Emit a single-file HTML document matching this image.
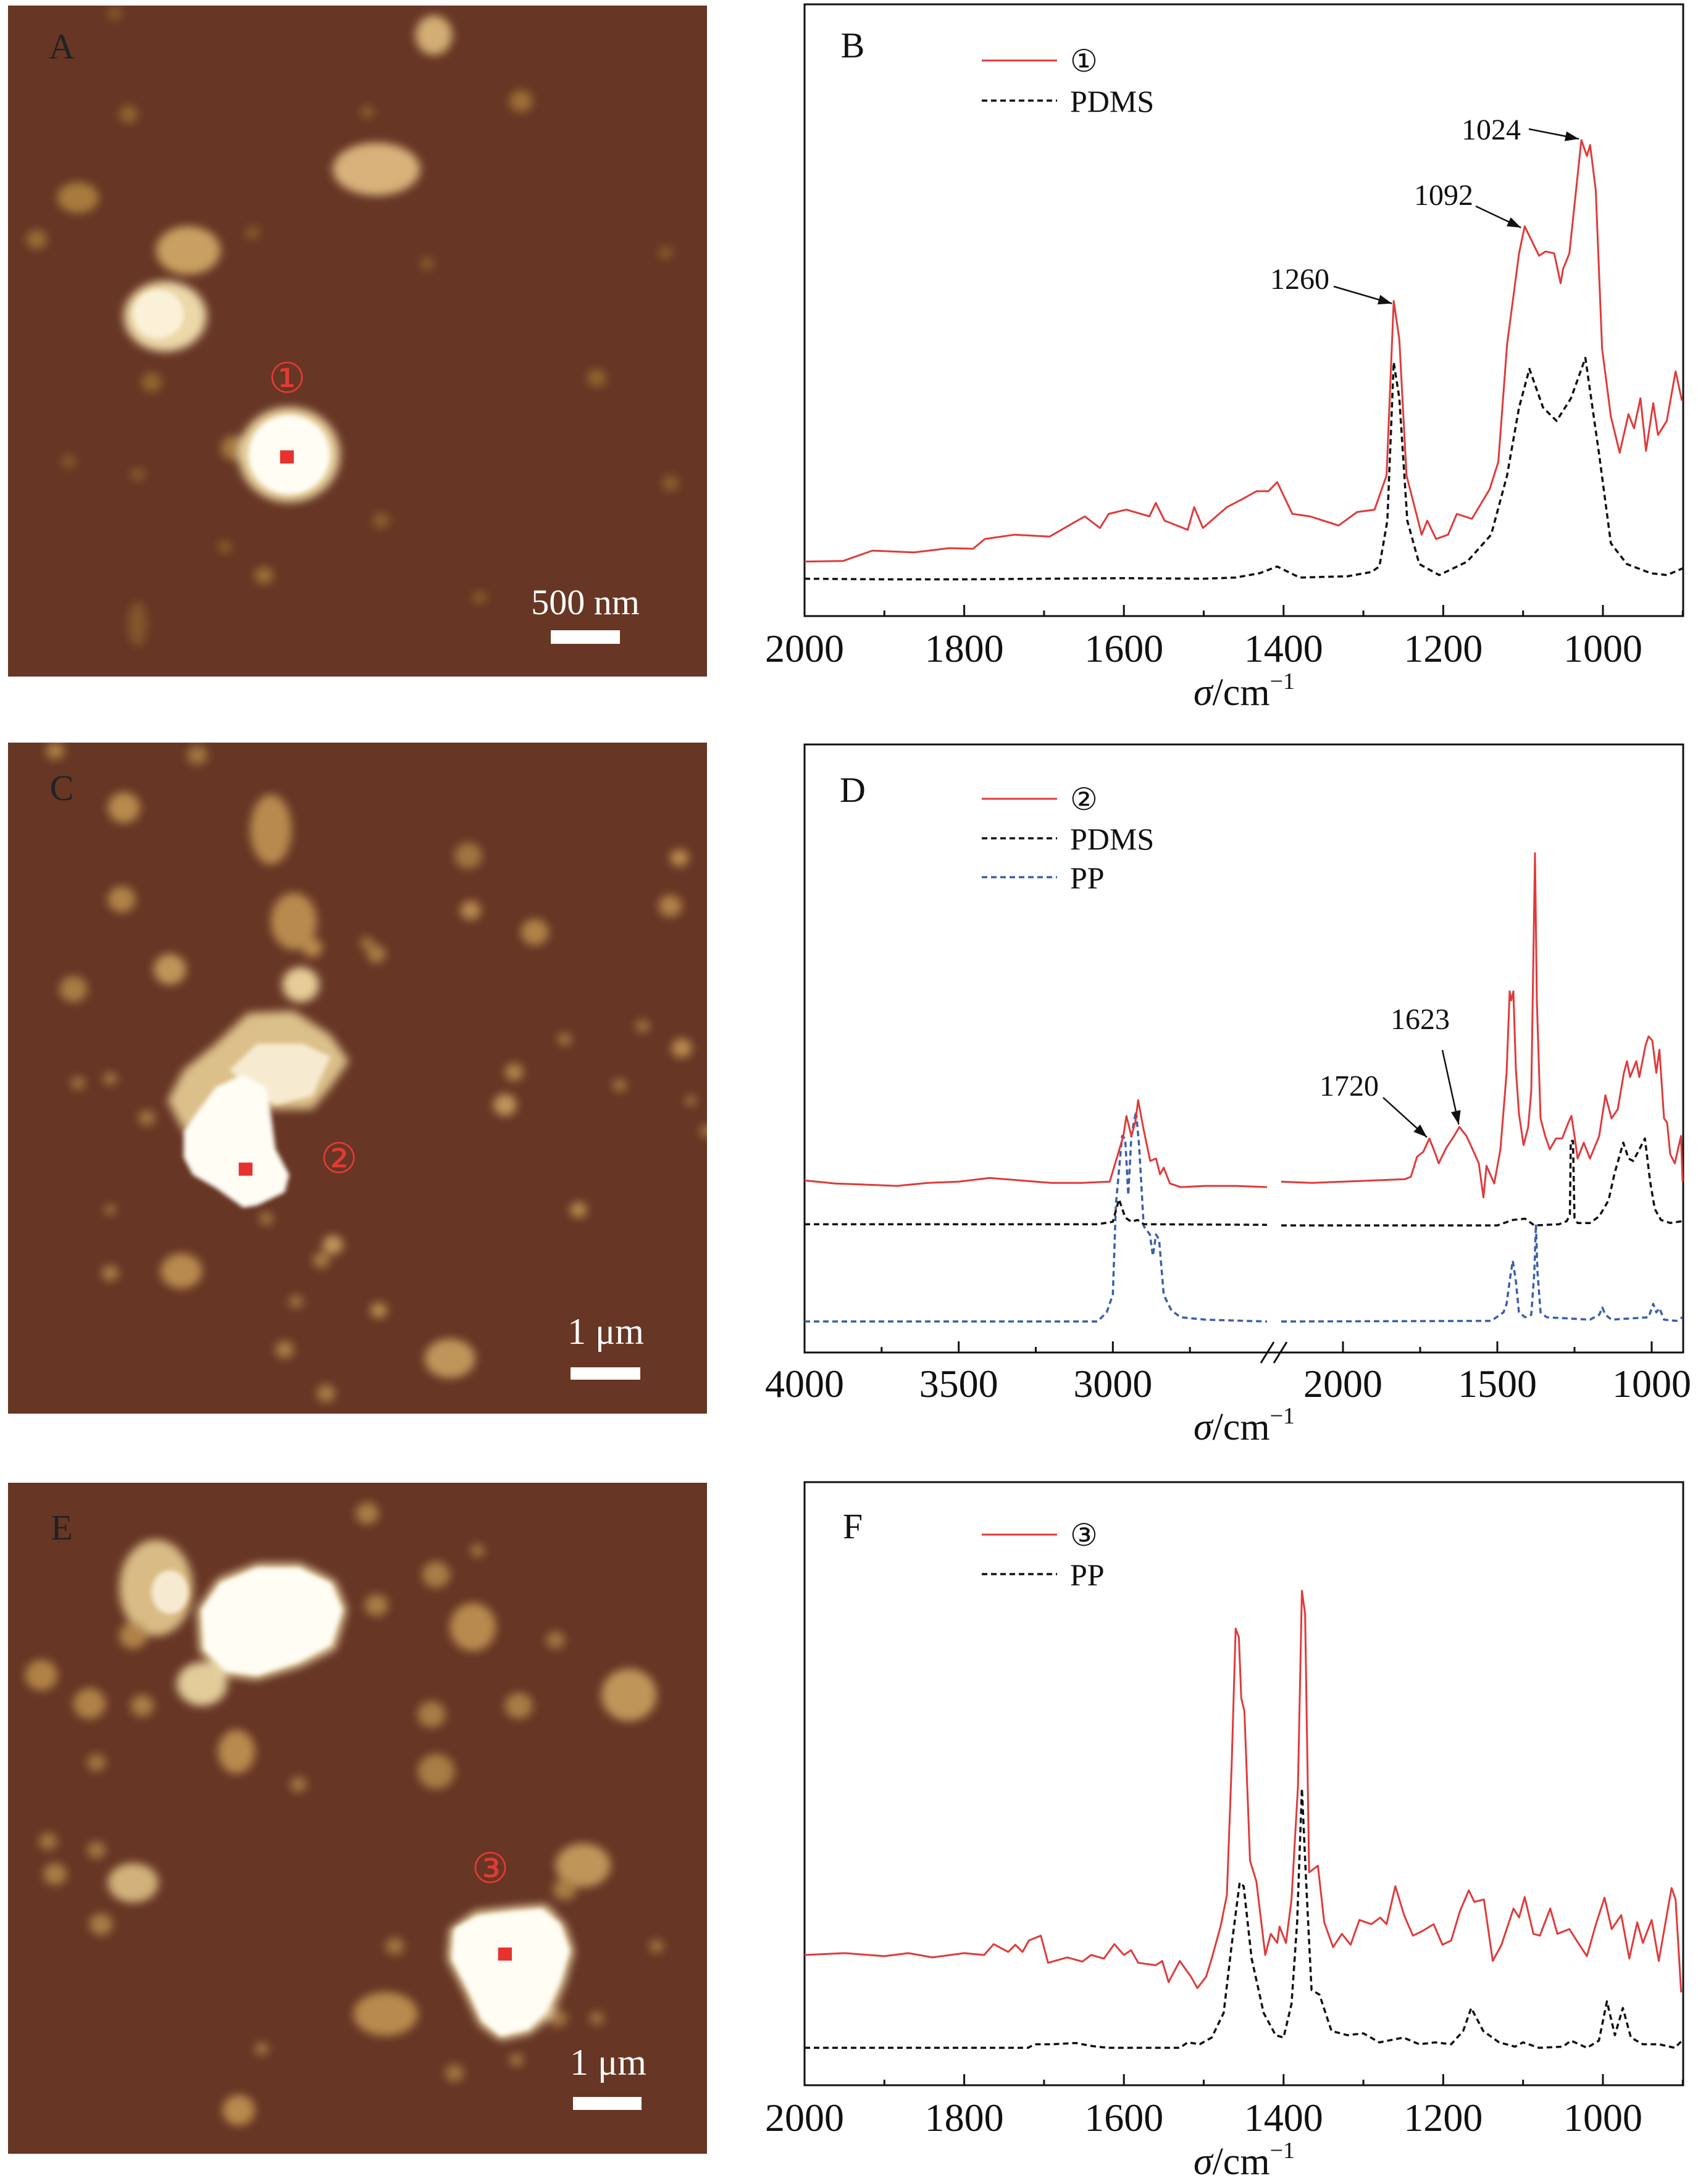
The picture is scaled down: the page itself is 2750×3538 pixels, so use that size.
<!DOCTYPE html>
<html><head><meta charset="utf-8">
<style>
html,body{margin:0;padding:0;background:#fff;}
svg{display:block;}
svg text{font-family:"Liberation Serif","Times New Roman",serif;}
</style></head>
<body>
<svg id="fig" width="2750" height="3538" viewBox="0 0 2750 3538" xmlns="http://www.w3.org/2000/svg" font-family="Liberation Serif, serif">
<defs>
<filter id="blr" x="-50%" y="-50%" width="200%" height="200%"><feGaussianBlur stdDeviation="10"/></filter>
<filter id="blr2" x="-50%" y="-50%" width="200%" height="200%"><feGaussianBlur stdDeviation="5"/></filter>
<clipPath id="clipA"><rect x="13" y="9" width="1132" height="1087"/></clipPath>
<clipPath id="clipC"><rect x="13" y="1203" width="1132" height="1087"/></clipPath>
<clipPath id="clipE"><rect x="13" y="2402" width="1132" height="1087"/></clipPath>
</defs>

<!-- Panel A -->
<g clip-path="url(#clipA)">
<rect x="13" y="9" width="1132" height="1087" fill="#673624"/>
<g transform="scale(0.7435,0.7117)" filter="url(#blr)">
<ellipse cx="820" cy="385" rx="95" ry="60" fill="#d8b27a"/>
<ellipse cx="410" cy="570" rx="70" ry="55" fill="#c9a062"/>
<ellipse cx="170" cy="450" rx="45" ry="35" fill="#a77a3e"/>
<ellipse cx="945" cy="80" rx="40" ry="45" fill="#d2ad74"/>
<ellipse cx="360" cy="720" rx="90" ry="80" fill="#ecd8a8"/>
<circle cx="1135" cy="230" r="25" fill="#9c6e36"/><circle cx="510" cy="1020" r="28" fill="#a57a40"/>
<circle cx="80" cy="545" r="22" fill="#9a6c34"/><circle cx="280" cy="260" r="20" fill="#93652f"/>
<circle cx="1300" cy="860" r="20" fill="#93652f"/><circle cx="1460" cy="1100" r="18" fill="#8d5f2d"/>
<circle cx="575" cy="1310" r="20" fill="#9c6e36"/><circle cx="330" cy="870" r="22" fill="#93652f"/>
<circle cx="1450" cy="575" r="15" fill="#8a5a2c"/><circle cx="930" cy="600" r="15" fill="#8a5a2c"/>
<circle cx="800" cy="255" r="15" fill="#8a5a2c"/><circle cx="830" cy="1185" r="18" fill="#8d5f2d"/>
<circle cx="150" cy="1050" r="15" fill="#8a5a2c"/><circle cx="300" cy="1080" r="15" fill="#8a5a2c"/>
<circle cx="250" cy="30" r="15" fill="#8a5a2c"/><circle cx="550" cy="530" r="15" fill="#8a5a2c"/>
<circle cx="1045" cy="1360" r="15" fill="#8a5a2c"/><circle cx="490" cy="1245" r="15" fill="#8a5a2c"/>
<ellipse cx="300" cy="1420" rx="20" ry="50" fill="#84562a"/>
<ellipse cx="630" cy="1035" rx="110" ry="108" fill="#e9d3a0"/>
</g>
<g transform="scale(0.7435,0.7117)">
<ellipse cx="630" cy="1035" rx="88" ry="90" fill="#fffdf4" filter="url(#blr2)"/>
<ellipse cx="345" cy="715" rx="55" ry="55" fill="#fbf1d8" filter="url(#blr2)"/>
<rect x="610" y="1025" width="30" height="30" fill="#e8322e"/>
</g>
<text x="465" y="636" font-size="68" fill="#e23a35" text-anchor="middle" font-family="Liberation Serif, serif">①</text>
<text x="100" y="95" font-size="58" fill="#222" text-anchor="middle" font-family="Liberation Serif, serif">A</text>
<text x="948" y="995" font-size="58" fill="#fff" text-anchor="middle" font-family="Liberation Serif, serif">500 nm</text>
<rect x="892" y="1021" width="112" height="22" fill="#fff"/>
</g>

<!-- Panel C -->
<g clip-path="url(#clipC)">
<rect x="13" y="1203" width="1132" height="1087" fill="#673624"/>
<g transform="translate(0,1195) scale(0.7435,0.7082)">
<g filter="url(#blr)">
<ellipse cx="590" cy="210" rx="45" ry="80" fill="#b88a4e"/>
<ellipse cx="640" cy="420" rx="50" ry="65" fill="#b88a4e"/>
<circle cx="680" cy="480" r="22" fill="#b88a4e"/>
<circle cx="655" cy="565" r="40" fill="#e6cd98"/>
<circle cx="270" cy="160" r="35" fill="#b88a4e"/><circle cx="120" cy="30" r="20" fill="#a97d44"/>
<circle cx="430" cy="40" r="22" fill="#a07440"/><circle cx="265" cy="370" r="30" fill="#b08246"/>
<circle cx="370" cy="530" r="35" fill="#c0955a"/><circle cx="160" cy="575" r="30" fill="#a97d44"/>
<circle cx="1025" cy="395" r="22" fill="#b88a4e"/><circle cx="1020" cy="270" r="30" fill="#a07440"/>
<circle cx="1165" cy="445" r="30" fill="#b08246"/><circle cx="1480" cy="275" r="20" fill="#b88a4e"/>
<circle cx="1460" cy="385" r="25" fill="#b08246"/><circle cx="1485" cy="710" r="22" fill="#b88a4e"/>
<circle cx="1100" cy="840" r="25" fill="#c0955a"/><circle cx="1120" cy="765" r="20" fill="#b08246"/>
<circle cx="1260" cy="1080" r="18" fill="#b88a4e"/><circle cx="1230" cy="690" r="15" fill="#a07440"/>
<circle cx="1400" cy="660" r="15" fill="#a07440"/><circle cx="725" cy="1160" r="22" fill="#c0955a"/>
<circle cx="700" cy="1195" r="18" fill="#a97d44"/><ellipse cx="395" cy="1220" rx="45" ry="40" fill="#b88a4e"/>
<circle cx="240" cy="1225" r="18" fill="#a97d44"/><circle cx="825" cy="1310" r="18" fill="#b88a4e"/>
<circle cx="645" cy="1290" r="15" fill="#a07440"/><circle cx="620" cy="1400" r="20" fill="#a97d44"/>
<ellipse cx="980" cy="1420" rx="55" ry="45" fill="#c0955a"/><circle cx="1350" cy="795" r="15" fill="#a07440"/>
<circle cx="1505" cy="830" r="12" fill="#a07440"/><circle cx="820" cy="495" r="20" fill="#a97d44"/>
<circle cx="800" cy="470" r="15" fill="#a07440"/><circle cx="170" cy="790" r="15" fill="#a07440"/>
<circle cx="240" cy="780" r="15" fill="#a07440"/><circle cx="320" cy="870" r="18" fill="#a07440"/>
<circle cx="580" cy="1100" r="15" fill="#a07440"/><circle cx="240" cy="1080" r="12" fill="#a07440"/>
<circle cx="710" cy="1500" r="20" fill="#a97d44"/><circle cx="1540" cy="900" r="15" fill="#a07440"/>
<polygon points="365,830 400,760 470,700 540,630 640,625 720,680 760,740 720,800 680,850 600,850 520,840 450,880 400,900" fill="#dcc08a"/>
</g>
<g filter="url(#blr2)">
<polygon points="500,760 560,700 660,700 720,730 680,820 600,840 540,800" fill="#f6ead0"/>
<polygon points="400,900 420,870 470,800 530,770 580,800 590,860 600,940 630,1000 620,1040 560,1070 530,1075 470,1030 420,1000 400,960" fill="#fffdf4"/>
</g>
<rect x="520" y="972" width="30" height="30" fill="#e8322e"/>
</g>
<text x="549" y="1900" font-size="68" fill="#e23a35" text-anchor="middle" font-family="Liberation Serif, serif">②</text>
<text x="100" y="1296" font-size="58" fill="#222" text-anchor="middle" font-family="Liberation Serif, serif">C</text>
<text x="981" y="2177" font-size="60" fill="#fff" text-anchor="middle" font-family="Liberation Serif, serif">1 μm</text>
<rect x="924" y="2215" width="113" height="20" fill="#fff"/>
</g>

<!-- Panel E -->
<g clip-path="url(#clipE)">
<rect x="13" y="2402" width="1132" height="1087" fill="#673624"/>
<g transform="translate(0,2395) scale(0.7435,0.7082)">
<g filter="url(#blr)">
<ellipse cx="340" cy="250" rx="80" ry="110" fill="#d9bc85"/>
<ellipse cx="440" cy="470" rx="55" ry="50" fill="#e3cc9a"/>
<ellipse cx="290" cy="925" rx="55" ry="45" fill="#d2b27a"/>
<ellipse cx="515" cy="625" rx="40" ry="50" fill="#b88a4e"/>
<ellipse cx="1030" cy="340" rx="50" ry="55" fill="#b88a4e"/>
<ellipse cx="1370" cy="495" rx="60" ry="60" fill="#c0955a"/>
<ellipse cx="1270" cy="885" rx="60" ry="50" fill="#c0955a"/>
<ellipse cx="840" cy="1225" rx="70" ry="50" fill="#b88a4e"/>
<circle cx="520" cy="1445" r="35" fill="#b88a4e"/><circle cx="90" cy="450" r="35" fill="#b08246"/>
<circle cx="195" cy="515" r="35" fill="#b08246"/><circle cx="800" cy="80" r="25" fill="#a97d44"/>
<circle cx="1040" cy="165" r="15" fill="#a07440"/><circle cx="950" cy="220" r="30" fill="#a97d44"/>
<circle cx="820" cy="290" r="25" fill="#a97d44"/><circle cx="940" cy="540" r="30" fill="#a97d44"/>
<circle cx="950" cy="670" r="40" fill="#a97d44"/><circle cx="1130" cy="520" r="30" fill="#a97d44"/>
<circle cx="650" cy="700" r="18" fill="#a07440"/><circle cx="210" cy="650" r="20" fill="#a07440"/>
<circle cx="105" cy="830" r="20" fill="#a07440"/><circle cx="210" cy="850" r="20" fill="#a07440"/>
<circle cx="120" cy="905" r="25" fill="#a97d44"/><circle cx="220" cy="1020" r="25" fill="#a97d44"/>
<circle cx="860" cy="1070" r="20" fill="#a07440"/><circle cx="1215" cy="1235" r="20" fill="#a07440"/>
<circle cx="1300" cy="1235" r="15" fill="#a07440"/><circle cx="1125" cy="1330" r="15" fill="#a07440"/>
<circle cx="990" cy="1360" r="20" fill="#a07440"/><circle cx="570" cy="1305" r="15" fill="#a07440"/>
<circle cx="1430" cy="1070" r="15" fill="#a07440"/><circle cx="1230" cy="940" r="25" fill="#a97d44"/>
<circle cx="310" cy="520" r="25" fill="#a97d44"/><circle cx="290" cy="360" r="30" fill="#b08246"/>
<circle cx="1210" cy="370" r="20" fill="#a07440"/>
<polygon points="430,300 475,230 560,195 655,195 730,235 755,300 730,390 655,430 560,460 485,450 435,395" fill="#ead7aa"/>
<polygon points="980,1030 1035,990 1120,980 1190,975 1230,1020 1250,1080 1230,1155 1200,1230 1155,1270 1090,1285 1045,1250 1012,1175 975,1100" fill="#ead7aa"/>
</g>
<g filter="url(#blr2)">
<polygon points="440,300 480,240 560,205 650,205 720,240 745,300 720,380 650,420 560,450 490,440 445,390" fill="#fffdf4"/>
<polygon points="990,1030 1040,1000 1120,990 1180,985 1220,1020 1240,1080 1220,1150 1190,1220 1150,1260 1090,1275 1050,1240 1020,1170 985,1100" fill="#fffdf4"/>
<ellipse cx="370" cy="260" rx="40" ry="50" fill="#f6ead0"/>
</g>
<rect x="1085" y="1073" width="30" height="30" fill="#e8322e"/>
</g>
<text x="794" y="3050" font-size="68" fill="#e23a35" text-anchor="middle" font-family="Liberation Serif, serif">③</text>
<text x="100" y="2494" font-size="58" fill="#222" text-anchor="middle" font-family="Liberation Serif, serif">E</text>
<text x="985" y="3361" font-size="60" fill="#fff" text-anchor="middle" font-family="Liberation Serif, serif">1 μm</text>
<rect x="928" y="3397" width="111" height="21" fill="#fff"/>
</g>

<g id="charts"></g>
</svg>

<script>
// ---------- Panel B data ----------
const ticksB = [2000, 1800, 1600, 1400, 1200, 1000];
const minorB = [1900, 1700, 1500, 1300, 1100, 900];
const redB = [[2000,8.9],[1952,9.0],[1915,10.7],[1863,10.4],[1819,11.1],[1789,11.0],[1774,12.6],[1737,13.3],[1693,13.0],[1649,16.3],[1630,14.4],[1619,16.7],[1597,17.4],[1568,16.3],[1560,18.5],[1549,15.6],[1520,14.1],[1512,17.8],[1501,14.4],[1471,17.8],[1449,19.3],[1434,20.4],[1419,20.4],[1408,21.9],[1389,16.7],[1367,16.3],[1331,14.8],[1308,17.0],[1286,17.4],[1271,23.0],[1262,51.5],[1255,45.2],[1246,23.0],[1227,13.3],[1220,15.6],[1209,12.6],[1194,13.3],[1183,16.7],[1164,15.9],[1142,20.7],[1131,25.2],[1120,44.4],[1105,59.3],[1098,63.7],[1080,58.9],[1072,59.6],[1061,59.3],[1053,54.4],[1050,56.7],[1042,59.3],[1027,77.8],[1020,75.2],[1016,77.0],[1009,69.6],[1001,43.7],[990,32.6],[979,26.7],[968,33.0],[961,30.7],[953,35.6],[946,27.0],[937,34.8],[931,29.6],[920,31.9],[909,40.0],[901,35.2]];
const pdmsB = [[2000,6.1],[1900,6.0],[1800,6.0],[1700,6.1],[1600,6.2],[1500,6.1],[1460,6.3],[1430,7.0],[1408,8.1],[1380,6.3],[1320,6.5],[1290,7.2],[1280,8.1],[1270,15.6],[1262,41.5],[1255,35.6],[1245,15.6],[1230,8.5],[1205,6.7],[1170,8.9],[1140,13.3],[1120,23.0],[1105,34.1],[1092,40.4],[1075,34.1],[1058,31.9],[1040,35.6],[1022,42.2],[1005,26.7],[990,11.9],[970,8.5],[940,7.0],[920,6.7],[900,7.8]];
const peaksB = [1260, 1092, 1024];

// ---------- Panel D data ----------
const ticksDLeft = [4000, 3500, 3000];
const minorDLeft = [3750, 3250, 2750];
const ticksDRight = [2000, 1500, 1000];
const minorDRight = [1750, 1250];
const redDLeft = [[4000,28.3],[3900,27.8],[3800,27.6],[3700,27.4],[3600,27.9],[3500,28.1],[3400,28.7],[3300,28.3],[3200,27.9],[3100,27.9],[3010,28.1],[2966,35.6],[2956,38.9],[2940,35.6],[2927,37.9],[2918,41.5],[2902,37.1],[2879,31.5],[2860,31.9],[2847,29.3],[2835,30.4],[2815,27.8],[2780,27.2],[2700,27.4],[2600,27.4],[2500,27.2]];
const redDRight = [[2200,28.1],[2100,27.9],[2000,28.1],[1900,28.3],[1800,28.5],[1780,28.9],[1760,32.2],[1740,33.0],[1720,35.2],[1700,32.6],[1690,31.1],[1665,33.7],[1640,35.6],[1623,37.1],[1600,35.6],[1580,33.4],[1560,31.1],[1545,25.5],[1535,30.7],[1510,27.8],[1490,33.4],[1470,46.0],[1460,59.4],[1455,57.9],[1448,59.4],[1440,46.7],[1430,39.3],[1415,34.1],[1400,37.1],[1390,43.1],[1378,82.1],[1372,57.9],[1360,38.5],[1345,35.6],[1330,33.4],[1310,35.2],[1290,35.2],[1270,37.8],[1260,38.9],[1250,35.6],[1240,31.9],[1220,34.5],[1200,31.9],[1170,35.6],[1150,42.3],[1130,38.5],[1110,40.0],[1090,46.0],[1080,47.9],[1070,45.3],[1050,47.9],[1040,45.3],[1020,50.5],[1010,52.0],[998,51.3],[985,46.0],[975,49.8],[960,38.5],[950,37.8],[940,32.6],[925,31.1],[915,33.4],[905,35.6],[900,28.1]];
const pdmsDLeft = [[4000,21.1],[3500,21.1],[3050,21.1],[3000,21.5],[2980,25.2],[2960,22.2],[2940,21.5],[2920,21.8],[2900,21.1],[2500,21.0]];
const pdmsDRight = [[2200,20.9],[1500,20.9],[1450,21.8],[1410,22.0],[1380,20.9],[1300,21.1],[1275,21.6],[1265,22.7],[1262,34.8],[1255,34.8],[1250,22.1],[1240,21.3],[1200,21.3],[1170,22.4],[1140,25.0],[1120,29.5],[1092,34.5],[1075,31.9],[1060,31.5],[1040,33.4],[1022,35.2],[1005,28.1],[990,23.6],[970,21.8],[940,21.3],[900,21.6]];
const ppDLeft = [[4000,5.1],[3500,5.1],[3050,5.1],[3020,6.6],[3000,9.5],[2990,24.4],[2970,35.6],[2960,35.2],[2950,25.9],[2940,35.6],[2925,39.7],[2915,34.1],[2900,20.8],[2880,19.4],[2870,15.9],[2860,19.4],[2850,18.6],[2835,9.5],[2810,6.9],[2780,5.8],[2700,5.4],[2500,5.1]];
const ppDRight = [[2200,5.1],[1520,5.2],[1480,6.6],[1470,8.0],[1460,11.8],[1450,15.1],[1440,11.8],[1430,6.6],[1410,5.8],[1390,6.2],[1380,13.3],[1375,21.1],[1370,13.3],[1360,6.6],[1340,5.8],[1200,5.4],[1170,6.2],[1160,7.4],[1150,6.2],[1130,5.4],[1010,5.8],[995,8.0],[985,6.6],[975,7.3],[960,5.4],[920,5.2],[900,5.8]];

// ---------- Panel F data ----------
const ticksF = [2000, 1800, 1600, 1400, 1200, 1000];
const minorF = [1900, 1700, 1500, 1300, 1100, 900];
const redF = [[2000,21.6],[1950,21.9],[1900,21.4],[1870,21.9],[1840,21.2],[1800,21.9],[1775,21.6],[1763,23.4],[1745,22.1],[1736,23.3],[1727,22.1],[1719,24.0],[1704,24.8],[1695,20.3],[1671,21.2],[1652,20.5],[1641,21.6],[1625,21.0],[1612,23.4],[1600,21.6],[1591,22.4],[1582,20.3],[1560,19.9],[1552,20.6],[1544,17.1],[1530,20.6],[1516,18.0],[1508,16.1],[1497,18.0],[1490,21.0],[1479,26.3],[1471,31.5],[1465,53.3],[1460,75.7],[1456,74.3],[1453,64.2],[1449,62.0],[1442,37.2],[1434,33.8],[1423,21.6],[1416,25.1],[1408,23.6],[1405,26.3],[1397,23.6],[1390,30.8],[1382,49.5],[1377,82.0],[1373,78.1],[1368,35.3],[1357,36.4],[1349,27.0],[1338,22.9],[1327,25.1],[1316,23.3],[1305,27.4],[1290,26.7],[1279,27.8],[1271,26.7],[1260,33.0],[1249,28.2],[1238,24.8],[1227,25.5],[1212,26.7],[1201,23.3],[1190,24.0],[1179,28.9],[1168,32.3],[1161,30.4],[1149,30.8],[1138,20.6],[1127,23.3],[1112,29.3],[1105,27.8],[1098,31.2],[1087,25.1],[1079,24.8],[1066,29.3],[1057,25.1],[1042,25.9],[1031,23.6],[1020,21.4],[1009,26.6],[998,31.1],[989,25.9],[977,28.2],[967,21.0],[957,27.0],[950,23.6],[939,27.4],[930,20.6],[920,28.2],[914,32.7],[909,30.8],[902,15.4]];
const ppF = [[2000,6.2],[1800,6.2],[1720,6.2],[1712,6.8],[1690,6.8],[1660,7.0],[1640,6.5],[1620,6.2],[1530,6.2],[1520,7.1],[1505,6.8],[1490,7.9],[1475,12.0],[1465,23.3],[1455,33.6],[1450,33.0],[1440,21.0],[1425,12.0],[1410,8.3],[1400,7.9],[1390,13.5],[1383,27.0],[1377,49.2],[1372,34.5],[1365,15.8],[1355,15.0],[1340,9.0],[1320,8.3],[1300,8.6],[1280,7.1],[1250,7.9],[1230,6.8],[1210,7.1],[1190,6.8],[1175,9.0],[1165,12.8],[1150,9.0],[1130,7.1],[1110,6.4],[1100,7.1],[1080,6.2],[1050,6.4],[1040,7.4],[1020,6.2],[1005,7.4],[995,13.9],[985,8.3],[975,12.8],[965,7.9],[950,6.8],[930,6.8],[910,6.2],[900,7.5]];

const NS = 'http://www.w3.org/2000/svg';
const FONT = 'Liberation Serif, Times New Roman, serif';
const root = document.getElementById('charts');
function mk(tag, attrs, parent) {
  const e = document.createElementNS(NS, tag);
  for (const k in attrs) e.setAttribute(k, attrs[k]);
  if (tag === 'text') e.setAttribute('font-family', FONT);
  (parent || root).appendChild(e);
  return e;
}
function linScale(d0, d1, r0, r1) { return v => r0 + (v - d0) / (d1 - d0) * (r1 - r0); }
function pathOf(pts, xs, ys) { return pts.map((p, i) => (i ? 'L' : 'M') + xs(p[0]).toFixed(1) + ',' + ys(p[1]).toFixed(1)).join(' '); }

const L = 1303, R = 2726;
const RED = '#e03a3a', BLK = '#111', BLUE = '#3a5fa8';

function drawFrame(top, bottom, name) {
  const r = mk('rect', {x: L, y: top, width: R - L, height: bottom - top, fill: 'none', stroke: '#111', 'stroke-width': 3});
  
  
}
function drawTick(x, bottom, len, name) {
  const t = mk('line', {x1: x, x2: x, y1: bottom, y2: bottom - len, stroke: '#111', 'stroke-width': 3});
  
  
}
function drawTickLabel(x, y, txt) {
  const t = mk('text', {x: x, y: y, 'font-size': 64, 'text-anchor': 'middle', fill: '#111'});
  t.textContent = txt;
  
  
}
function drawAxisTitle(y, name) {
  const t = mk('text', {x: 2015, y: y, 'font-size': 62, 'text-anchor': 'middle', fill: '#111'});
  
  
  const s1 = mk('tspan', {'font-style': 'italic'}, t); s1.textContent = 'σ';
  const s2 = mk('tspan', {}, t); s2.textContent = '/cm';
  const s3 = mk('tspan', {dy: -26, 'font-size': 38}, t); s3.textContent = '−1';
}
function drawSeries(pts, xs, ys, color, dashed, name) {
  const p = mk('path', {d: pathOf(pts, xs, ys), fill: 'none', stroke: color, 'stroke-width': dashed ? 3.5 : 3, 'stroke-dasharray': dashed ? '9,6' : 'none', 'stroke-linejoin': 'round'});
  
  
}
function drawPanelLabel(y, txt) {
  const t = mk('text', {x: 1381, y: y, 'font-size': 58, 'text-anchor': 'middle', fill: '#111'});
  t.textContent = txt;
  
  
}
function drawLegend(y, color, dashed, txt, name) {
  const l = mk('line', {x1: 1590, x2: 1712, y1: y, y2: y, stroke: color, 'stroke-width': dashed ? 3.5 : 3, 'stroke-dasharray': dashed ? '9,6' : 'none'});
  
  
  const t = mk('text', {x: 1733, y: y + 18, 'font-size': 50, fill: '#111'});
  t.textContent = txt;
  
  
}
function drawAnno(txt, tx, ty, x1, y1, x2, y2, name) {
  const t = mk('text', {x: tx, y: ty + 17, 'font-size': 48, 'text-anchor': 'middle', fill: '#111'});
  t.textContent = txt;
  
  
  const a = mk('line', {x1: x1, y1: y1, x2: x2, y2: y2, stroke: '#111', 'stroke-width': 2.5});
  
  
  const ang = Math.atan2(y2 - y1, x2 - x1), s = 22, w = 8;
  const bx = x2 - s * Math.cos(ang), by = y2 - s * Math.sin(ang);
  const h = mk('polygon', {points: `${x2},${y2} ${bx - w * Math.sin(ang)},${by + w * Math.cos(ang)} ${bx + w * Math.sin(ang)},${by - w * Math.cos(ang)}`, fill: '#111'});
  
  
}

// ===== Panel B =====
(function () {
  const top = 7, bot = 998;
  const xs = linScale(2000, 900, L, L + 1100 * 1.293);
  const ys = linScale(0, 100, bot, top);
  drawFrame(top, bot, 'spectrum-b');
  ticksB.forEach(v => { drawTick(xs(v), bot, 18, 'x-major-tick'); drawTickLabel(xs(v), 1072, String(v)); });
  minorB.forEach(v => drawTick(xs(v), bot, 9, 'x-minor-tick'));
  drawAxisTitle(1142, 'x-axis-title-b');
  drawSeries(pdmsB, xs, ys, BLK, true, 'pdms-reference-b');
  drawSeries(redB, xs, ys, RED, false, 'particle-1-spectrum');
  drawPanelLabel(93, 'B');
  drawLegend(98, RED, false, '①', 'legend-particle-1');
  drawLegend(163, BLK, true, 'PDMS', 'legend-pdms-b');
  const pv = w => { let best = redB[0]; redB.forEach(p => { if (Math.abs(p[0] - w) < Math.abs(best[0] - w)) best = p; }); return best; };
  const p0 = pv(peaksB[0]), p1 = pv(peaksB[1]), p2 = pv(peaksB[2]);
  drawAnno(String(peaksB[0]), 2105, 451, 2160, 464, xs(p0[0]) - 3, ys(p0[1]) + 4, 'peak-1260');
  drawAnno(String(peaksB[1]), 2338, 315, 2390, 334, xs(p1[0]) - 6, ys(p1[1]) + 2, 'peak-1092');
  drawAnno(String(peaksB[2]), 2415, 209, 2476, 209, xs(p2[0]) - 4, ys(p2[1]) - 2, 'peak-1024');
})();

// ===== Panel D =====
(function () {
  const top = 1206, bot = 2191;
  const xl = linScale(4000, 2500, 1303, 2052);
  const xr = linScale(2200, 900, 2075, 2725);
  const ys = linScale(0, 100, bot, top);
  drawFrame(top, bot, 'spectrum-d');
  ticksDLeft.forEach(v => { drawTick(xl(v), bot, 18, 'x-major-tick'); drawTickLabel(xl(v), 2263, String(v)); });
  minorDLeft.forEach(v => drawTick(xl(v), bot, 9, 'x-minor-tick'));
  ticksDRight.forEach(v => { drawTick(xr(v), bot, 18, 'x-major-tick'); drawTickLabel(xr(v), 2263, String(v)); });
  minorDRight.forEach(v => drawTick(xr(v), bot, 9, 'x-minor-tick'));
  const bm = mk('path', {d: 'M2042,2208 L2063,2174 M2063,2208 L2084,2174', stroke: '#111', 'stroke-width': 3, fill: 'none'});
  
  
  drawAxisTitle(2332, 'x-axis-title-d');
  drawSeries(ppDLeft, xl, ys, BLUE, true, 'pp-reference-d-left');
  drawSeries(ppDRight, xr, ys, BLUE, true, 'pp-reference-d-right');
  drawSeries(pdmsDLeft, xl, ys, BLK, true, 'pdms-reference-d-left');
  drawSeries(pdmsDRight, xr, ys, BLK, true, 'pdms-reference-d-right');
  drawSeries(redDLeft, xl, ys, RED, false, 'particle-2-spectrum-left');
  drawSeries(redDRight, xr, ys, RED, false, 'particle-2-spectrum-right');
  drawPanelLabel(1299, 'D');
  drawLegend(1294, RED, false, '②', 'legend-particle-2');
  drawLegend(1358, BLK, true, 'PDMS', 'legend-pdms-d');
  drawLegend(1421, BLUE, true, 'PP', 'legend-pp-d');
  drawAnno('1623', 2300, 1650, 2336, 1701, xr(1623) - 1, ys(37.1) - 4, 'peak-1623');
  drawAnno('1720', 2185, 1758, 2240, 1778, xr(1720) - 4, ys(35.2) - 2, 'peak-1720');
})();

// ===== Panel F =====
(function () {
  const top = 2401, bot = 3378;
  const xs = linScale(2000, 900, L, L + 1100 * 1.293);
  const ys = linScale(0, 100, bot, top);
  drawFrame(top, bot, 'spectrum-f');
  ticksF.forEach(v => { drawTick(xs(v), bot, 18, 'x-major-tick'); drawTickLabel(xs(v), 3452, String(v)); });
  minorF.forEach(v => drawTick(xs(v), bot, 9, 'x-minor-tick'));
  drawAxisTitle(3522, 'x-axis-title-f');
  drawSeries(ppF, xs, ys, BLK, true, 'pp-reference-f');
  drawSeries(redF, xs, ys, RED, false, 'particle-3-spectrum');
  drawPanelLabel(2492, 'F');
  drawLegend(2486, RED, false, '③', 'legend-particle-3');
  drawLegend(2550, BLK, true, 'PP', 'legend-pp-f');
})();
</script>
</body></html>
